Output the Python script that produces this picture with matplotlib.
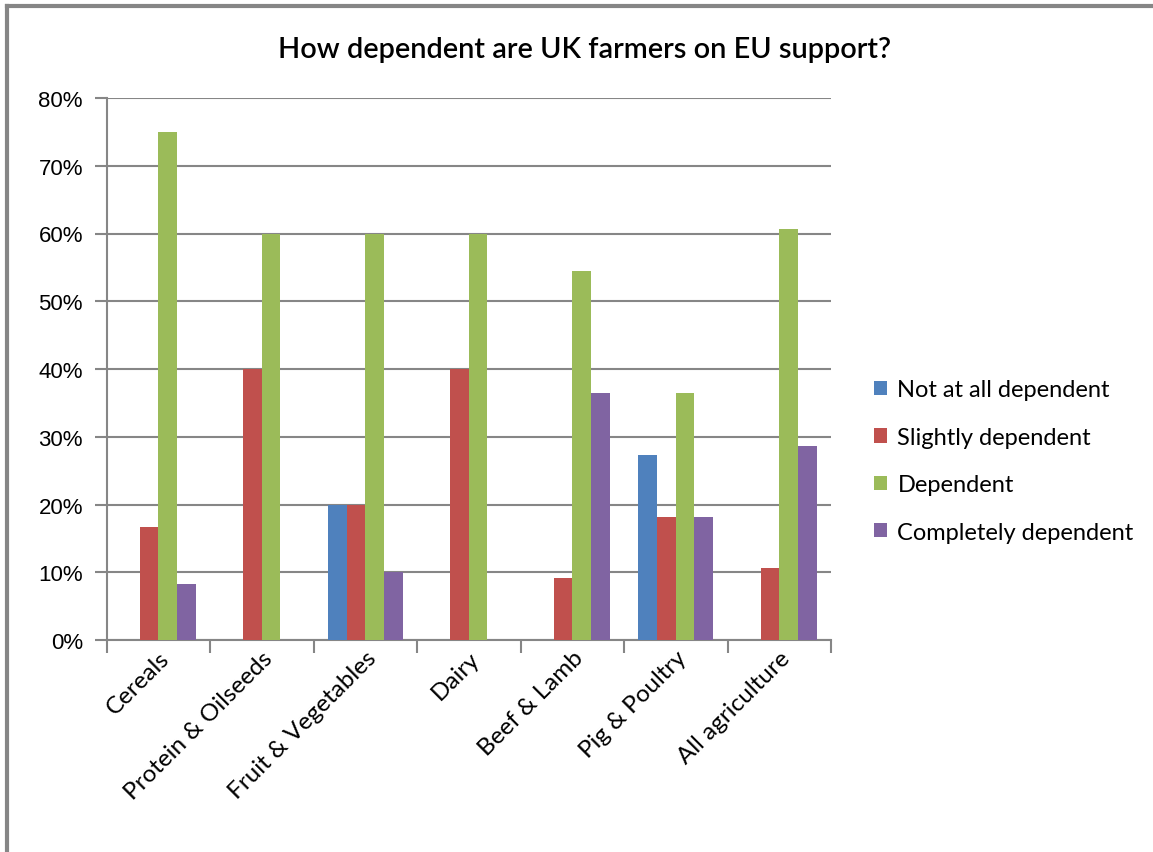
import numpy as np
import matplotlib as mpl

mpl.use('Agg')

import matplotlib.pyplot as plt
from matplotlib.lines import Line2D

plt.rcParams['font.family'] = ['Lato', 'DejaVu Sans']

# категории и ряды (доли в %)
categories = ['Cereals', 'Protein & Oilseeds', 'Fruit & Vegetables', 'Dairy',
              'Beef & Lamb', 'Pig & Poultry', 'All agriculture']
series = ['Not at all dependent', 'Slightly dependent', 'Dependent',
          'Completely dependent']

not_at_all = [0.0, 0.0, 20.0, 0.0, 0.0, 27.3, 0.0]
slightly = [16.7, 40.0, 20.0, 40.0, 9.1, 18.2, 10.7]
dependent = [75.0, 60.0, 60.0, 60.0, 54.5, 36.4, 60.7]
completely = [8.3, 0.0, 10.0, 0.0, 36.4, 18.2, 28.6]

colors = ['#4F81BD', '#C0504D', '#9BBB59', '#8064A2']
grid_c = '#868686'


def main():
    fig = plt.figure(figsize=(11.53, 8.53), dpi=100)
    ax = fig.add_axes([106.5 / 1153, 1 - 641 / 853, (831 - 106.5) / 1153, (641 - 99) / 853])

    x = np.arange(len(categories))
    w = 0.18
    data = [not_at_all, slightly, dependent, completely]
    for i, vals in enumerate(data):
        ax.bar(x + (i - 1.5) * w, vals, width=w, color=colors[i], label=series[i],
               zorder=3, linewidth=0)

    ax.set_xlim(-0.5, len(categories) - 0.5)
    ax.set_ylim(0, 80)
    ax.set_yticks(np.arange(0, 81, 10))
    ax.set_yticklabels(['{:d}%'.format(v) for v in range(0, 81, 10)], fontsize=16,
                       family=['Liberation Sans', 'DejaVu Sans'])
    ax.yaxis.grid(True, color=grid_c, lw=1.5, zorder=0)

    # деления оси x между категориями
    ax.set_xticks(np.arange(-0.5, len(categories), 1.0))
    ax.set_xticklabels([])
    ax.set_xticks(x, minor=True)
    ax.set_xticklabels(categories, minor=True, rotation=45, ha='right',
                       rotation_mode='anchor', fontsize=17.5)
    ax.tick_params(axis='x', which='major', length=9, color=grid_c, width=1.5)
    ax.tick_params(axis='x', which='minor', length=0, pad=5)
    ax.tick_params(axis='y', length=9, color=grid_c, width=1.5, pad=8)

    for s in ['top', 'right']:
        ax.spines[s].set_visible(False)
    for s in ['left', 'bottom']:
        ax.spines[s].set_color(grid_c)
        ax.spines[s].set_linewidth(1.5)

    fig.text(0.507, 1 - 50 / 853, 'How dependent are UK farmers on EU support?',
             ha='center', va='center', fontsize=20.8, fontweight='semibold')

    ax.legend(loc='center left', bbox_to_anchor=(862 / 1153, 1 - 462 / 853),
              bbox_transform=fig.transFigure, frameon=False, fontsize=17,
              handlelength=0.55, handleheight=0.55, handletextpad=0.45,
              labelspacing=1.12, borderpad=0)

    # рамка диаграммы (видны только верх и левый край)
    fig.add_artist(Line2D([7 / 1153, 7 / 1153], [0, 1 - 7 / 853],
                          transform=fig.transFigure, color=grid_c, lw=3))
    fig.add_artist(Line2D([7 / 1153, 1], [1 - 7 / 853, 1 - 7 / 853],
                          transform=fig.transFigure, color=grid_c, lw=3))

    fig.savefig('out.png', dpi=100)


main()
